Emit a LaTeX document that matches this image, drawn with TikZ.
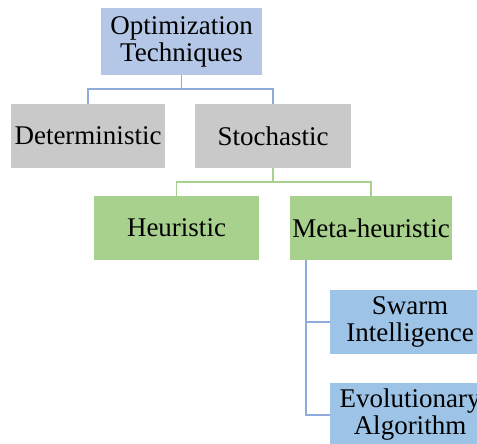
\documentclass[tikz,border=0pt]{standalone}
\usepackage{fontspec}
\setmainfont{Liberation Serif}
\definecolor{topblue}{HTML}{B4C7E7}
\definecolor{boxgrey}{HTML}{C9C9C9}
\definecolor{boxgreen}{HTML}{A9D18E}
\definecolor{boxblue}{HTML}{9DC3E6}
\definecolor{lineblue}{HTML}{8FAADC}
\definecolor{linegreen}{HTML}{A9D18E}
\begin{document}
\begin{tikzpicture}[x=1pt,y=-1pt,
  box/.style={rectangle,inner sep=0pt,align=center,font=\fontsize{27}{27}\selectfont},
  conn/.style={line width=1.5pt}]
\useasboundingbox (0,0) rectangle (477,444);
\clip (0,0) rectangle (477,444);
\node[box,fill=topblue,minimum width=161pt,minimum height=67pt] (top) at (181.5,41.5) {Optimization\\Techniques};
\node[box,fill=boxgrey,minimum width=154pt,minimum height=64pt] (det) at (88,136) {Deterministic};
\node[box,fill=boxgrey,minimum width=156pt,minimum height=64pt] (sto) at (273,136) {Stochastic};
\node[box,fill=boxgreen,minimum width=165pt,minimum height=64pt] (heu) at (176.5,228) {Heuristic};
\node[box,fill=boxgreen,minimum width=162pt,minimum height=64pt] (meta) at (371,228) {Meta-heuristic};
\node[box,fill=boxblue,minimum width=160pt,minimum height=64pt] (swarm) at (410,322) {Swarm\\Intelligence};
\node[box,fill=boxblue,minimum width=160pt,minimum height=64pt] (evo) at (410,415) {Evolutionary\\Algorithm};
\draw[conn,lineblue] (top.south) -- ++(0,14) -| (det.north);
\draw[conn,lineblue] (top.south) -- ++(0,14) -| (sto.north);
\draw[conn,linegreen] (sto.south) -- ++(0,14) -| (heu.north);
\draw[conn,linegreen] (sto.south) -- ++(0,14) -| (meta.north);
\coordinate (mv) at ([xshift=16pt]meta.south west);
\draw[conn,lineblue] (mv) |- (swarm.west);
\draw[conn,lineblue] (mv) |- (evo.west);
\end{tikzpicture}
\end{document}
